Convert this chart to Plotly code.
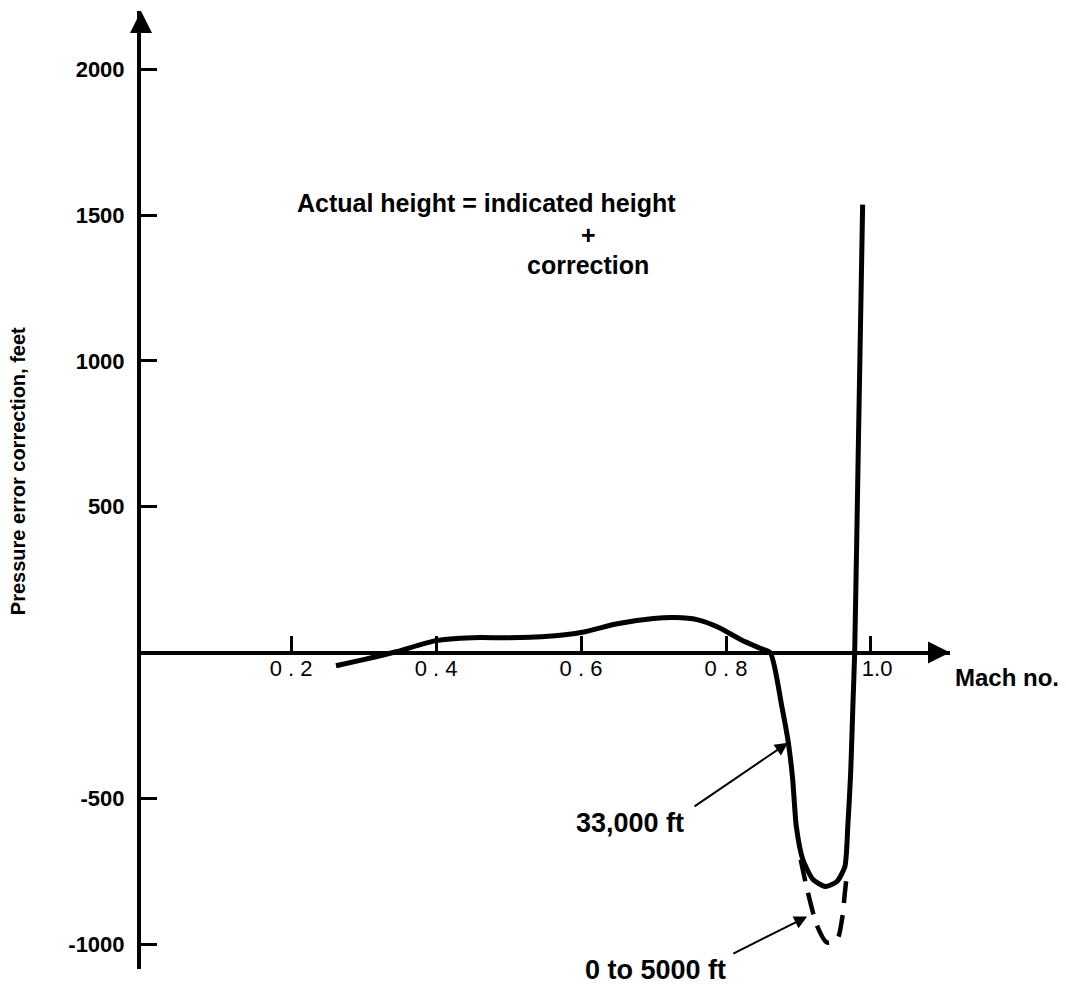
import plotly.graph_objects as go

# ---- data ----
mach_33k = [0.262, 0.30, 0.345, 0.40, 0.45, 0.50, 0.55, 0.60, 0.65, 0.70, 0.73, 0.76,
            0.79, 0.82, 0.845, 0.861, 0.877, 0.886, 0.892, 0.897, 0.906, 0.920, 0.937,
            0.953, 0.964, 0.968, 0.972, 0.975, 0.9775, 0.9825, 0.9885]
pec_33k = [-45, -24, 3, 41, 51, 51, 55, 69, 99, 117, 120, 113,
           86, 45, 17, 0, -185, -309, -435, -597, -710, -778, -802,
           -785, -734, -597, -411, -185, 0, 700, 1536]

mach_0_5k = [0.903, 0.913, 0.926, 0.939, 0.953, 0.960, 0.964, 0.967]
pec_0_5k = [-710, -823, -939, -994, -984, -915, -823, -754]

x_tickvals = [0.2, 0.4, 0.6, 0.8, 1.0]
x_ticktext = ["0 . 2", "0 . 4", "0 . 6", "0 . 8", "\u00a0\u00a01.0"]
y_tickvals = [-1000, -500, 500, 1000, 1500, 2000]
y_ticktext = ["-1000", "-500", "500", "1000", "1500", "2000"]

X_RANGE = [-0.007, 1.109]
Y_RANGE = [-1085, 2200]

FONT = "Liberation Sans, Arial, sans-serif"
INK = "#000000"

fig = go.Figure()

fig.add_trace(go.Scatter(
    x=mach_33k, y=pec_33k, mode="lines",
    line=dict(color=INK, width=5, shape="spline", smoothing=0.6),
    showlegend=False, hoverinfo="skip"))

fig.add_trace(go.Scatter(
    x=mach_0_5k, y=pec_0_5k, mode="lines",
    line=dict(color=INK, width=4.5, shape="spline", smoothing=0.8, dash="22px,12px"),
    showlegend=False, hoverinfo="skip"))

# arrowheads at the axis ends
fig.add_trace(go.Scatter(
    x=[X_RANGE[1], X_RANGE[0]], y=[0, Y_RANGE[1]], mode="markers",
    marker=dict(symbol=["arrow-right", "arrow-up"], size=22, color=INK,
                line=dict(width=0)),
    cliponaxis=False, showlegend=False, hoverinfo="skip"))

x_axis_pos = (0 - Y_RANGE[0]) / (Y_RANGE[1] - Y_RANGE[0])

fig.update_layout(
    width=1050, height=978,
    margin=dict(l=133, r=108, t=3, b=17, autoexpand=False),
    paper_bgcolor="white", plot_bgcolor="white",
    font=dict(family=FONT, color=INK),
    xaxis=dict(range=X_RANGE, showgrid=False, zeroline=False, automargin=False,
               showline=True, linecolor=INK, linewidth=4,
               anchor="free", position=x_axis_pos,
               ticks="inside", ticklen=15, tickwidth=3, tickcolor=INK,
               tickvals=x_tickvals, ticktext=x_ticktext,
               ticklabelstandoff=-5,
               tickfont=dict(size=22, family=FONT)),
    yaxis=dict(range=Y_RANGE, showgrid=False, zeroline=False, automargin=False,
               showline=True, linecolor=INK, linewidth=4,
               ticks="inside", ticklen=16, tickwidth=3, tickcolor=INK,
               tickvals=y_tickvals, ticktext=y_ticktext,
               ticklabelstandoff=8,
               tickfont=dict(size=22, family=FONT, weight="bold")),
)

def f(size):
    return dict(size=size, family=FONT, color=INK, weight="bold")

annotations = [
    dict(text="Actual height = indicated height", x=0.4697, y=1543, xref="x", yref="y",
         showarrow=False, font=f(25), xanchor="center", yanchor="middle"),
    dict(text="+", x=0.6097, y=1433, xref="x", yref="y",
         showarrow=False, font=f(25), xanchor="center", yanchor="middle"),
    dict(text="correction", x=0.6097, y=1330, xref="x", yref="y",
         showarrow=False, font=f(25), xanchor="center", yanchor="middle"),
    dict(text="Mach no.", x=1.0037, y=0.3047, xref="paper", yref="paper",
         showarrow=False, font=f(24), xanchor="left", yanchor="middle"),
    dict(text="33,000 ft", x=0.6676, y=-583, xref="x", yref="y",
         showarrow=False, font=f(27), xanchor="center", yanchor="middle"),
    dict(text="0 to 5000 ft", x=0.6354, y=-0.001, xref="paper", yref="paper",
         showarrow=False, font=f(27), xanchor="center", yanchor="middle"),
    dict(text="Pressure error correction, feet", x=-0.152, y=0.5197,
         xref="paper", yref="paper", showarrow=False, textangle=-90,
         font=f(20), xanchor="center", yanchor="middle"),
    # pointer arrows
    dict(text="", x=0.8855, y=-309, ax=0.7545, ay=-531, xref="x", yref="y",
         axref="x", ayref="y", showarrow=True, arrowhead=2, arrowsize=1.3,
         arrowwidth=2, arrowcolor=INK),
    dict(text="", x=0.912, y=-905, ax=0.808, ay=-1035, xref="x", yref="y",
         axref="x", ayref="y", showarrow=True, arrowhead=2, arrowsize=1.3,
         arrowwidth=2, arrowcolor=INK),
]
fig.update_layout(annotations=annotations)

fig.write_html("out.html")
